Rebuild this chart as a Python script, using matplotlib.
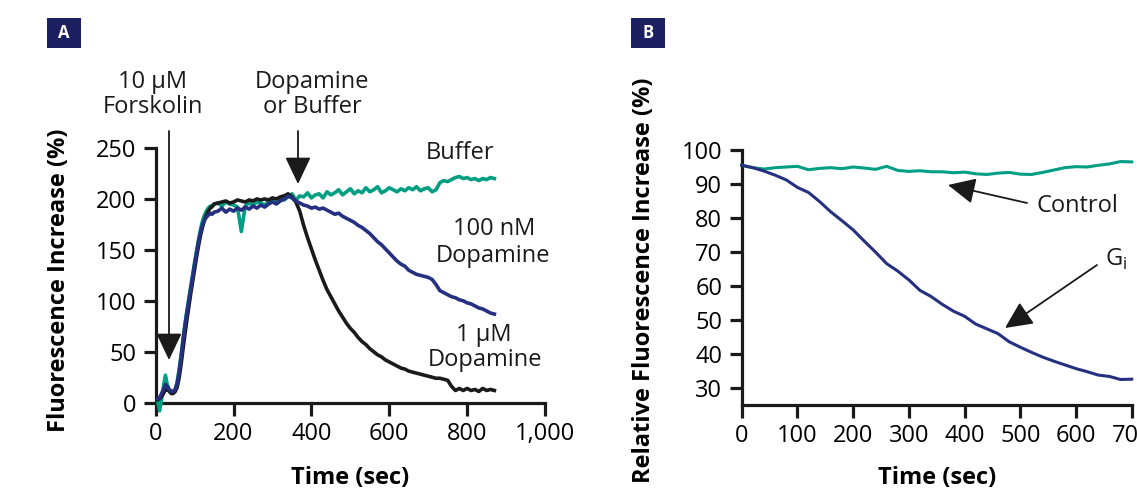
import matplotlib
matplotlib.use('Agg')
import matplotlib.pyplot as plt
from matplotlib.ticker import FuncFormatter
from matplotlib.patches import Rectangle

plt.rcParams['font.family'] = ['Open Sans', 'DejaVu Sans']

# panel A: forskolin then dopamine / buffer
time_a = list(range(5, 151, 5)) + list(range(160, 871, 10))
buffer_vals = [2, -8, 3, 16, 27, 17, 12, 10, 10, 13,
               20, 32, 46, 62, 77, 90, 102, 114, 126, 138,
               149, 160, 170, 178, 184, 188, 191, 193, 192, 195,
               196, 193, 197, 195, 194, 192, 168, 193, 196, 194,
               197, 196, 194, 198, 199, 196, 200, 199, 202, 205,
               199, 203, 202, 206, 201, 204, 205, 201, 207, 204,
               206, 209, 204, 207, 210, 205, 208, 206, 211, 207,
               209, 212, 206, 208, 211, 209, 207, 210, 208, 211,
               209, 212, 208, 210, 211, 207, 209, 216, 218, 217,
               219, 221, 222, 220, 221, 219, 220, 218, 220, 219, 221, 220]
dopa_100nm = [4, 5, 9, 13, 18, 16, 13, 11, 11, 13,
              19, 30, 44, 60, 75, 88, 100, 112, 124, 136,
              147, 158, 167, 174, 179, 182, 184, 186, 185, 187,
              188, 191, 187, 190, 188, 191, 189, 192, 190, 193,
              191, 194, 192, 195, 197, 195, 198, 200, 203, 201,
              198, 196, 194, 193, 191, 192, 190, 191, 189, 187,
              185, 186, 183, 181, 179, 177, 174, 172, 169, 166,
              162, 158, 155, 151, 147, 143, 139, 136, 134, 130,
              128, 126, 125, 124, 123, 121, 116, 110, 108, 106,
              104, 103, 101, 100, 98, 97, 95, 93, 92, 90, 88, 87]
dopa_1um = [3, 4, 6, 9, 13, 13, 11, 9, 9, 11,
            15, 24, 37, 52, 67, 81, 94, 107, 119, 131,
            143, 154, 164, 172, 179, 184, 188, 191, 193, 195,
            196, 197, 198, 196, 197, 199, 198, 197, 199, 198,
            200, 199, 200, 199, 201, 200, 202, 203, 205, 202,
            197, 188, 174, 162, 151, 140, 130, 120, 111, 104,
            97, 90, 84, 78, 73, 69, 64, 60, 57, 53,
            50, 47, 45, 42, 40, 38, 36, 34, 33, 31,
            30, 29, 28, 27, 26, 25, 24, 24, 23, 22,
            16, 12, 14, 12, 14, 12, 13, 11, 14, 12, 13, 12]

# panel B: control vs Gi
time_b = list(range(0, 701, 20))
control = [95.5, 94.8, 94.4, 94.8, 95.0, 95.2, 94.2, 94.6, 94.8, 94.5,
           95.0, 94.7, 94.3, 95.2, 94.0, 93.7, 93.9, 93.6, 93.6, 93.3,
           93.5, 93.0, 92.8, 93.2, 93.4, 92.9, 92.8, 93.4, 94.1, 94.8,
           95.1, 95.0, 95.5, 95.9, 96.6, 96.5]
gi = [95.5, 94.8, 93.8, 92.6, 91.2, 89.0, 87.5, 84.8, 81.8, 79.2,
      76.5, 73.2, 70.0, 66.6, 64.4, 61.8, 58.7, 56.9, 54.6, 52.6,
      51.1, 48.8, 47.4, 46.0, 43.6, 42.0, 40.5, 39.1, 37.9, 36.8,
      35.7, 34.8, 33.8, 33.4, 32.5, 32.6]

TEAL = '#009e83'
NAVY = '#263080'
BLACK = '#1a1a1a'
BOX = '#1c2060'
FS = 17

W, H = 1137, 501


def px(x, y):
    # pixel position (top-left origin) -> figure fraction
    return (x / W, 1 - y / H)


fig = plt.figure(figsize=(W / 100, H / 100), dpi=100)
axA = fig.add_axes([155.7 / W, 1 - 402.7 / H, 389.3 / W, 254.7 / H])
axB = fig.add_axes([741.7 / W, 1 - 405 / H, 390 / W, 255 / H])

for ax in (axA, axB):
    for s in ('top', 'right'):
        ax.spines[s].set_visible(False)
    for s in ('left', 'bottom'):
        ax.spines[s].set_linewidth(2.3)
        ax.spines[s].set_color(BLACK)
    ax.tick_params(direction='out', length=9, width=2.3, labelsize=FS, pad=5, color=BLACK)

axA.plot(time_a, buffer_vals, color=TEAL, lw=2.6, clip_on=False, zorder=3)
axA.plot(time_a, dopa_1um, color=BLACK, lw=2.6, clip_on=False, zorder=4)
axA.plot(time_a, dopa_100nm, color=NAVY, lw=2.6, clip_on=False, zorder=5)
axA.set_xlim(0, 1000)
axA.set_ylim(0, 250)
axA.set_xticks(range(0, 1001, 200))
axA.set_yticks(range(0, 251, 50))
axA.xaxis.set_major_formatter(FuncFormatter(lambda v, p: '{:,.0f}'.format(v)))
axA.set_xlabel('Time (sec)', fontsize=FS, fontweight='bold')
axA.set_ylabel('Fluorescence Increase (%)', fontsize=FS, fontweight='bold')
axA.xaxis.set_label_coords(0.5, -0.296)
axA.xaxis.label.set_va('center')
axA.yaxis.set_label_coords(-0.248, 0.48)
axA.yaxis.label.set_va('center')

axB.plot(time_b, control, color=TEAL, lw=2.2, clip_on=False, zorder=3)
axB.plot(time_b, gi, color=NAVY, lw=2.2, clip_on=False, zorder=4)
axB.set_xlim(0, 700)
axB.set_ylim(25, 100)
axB.set_xticks(range(0, 701, 100))
axB.set_yticks(range(30, 101, 10))
axB.set_xlabel('Time (sec)', fontsize=FS, fontweight='bold')
axB.set_ylabel('Relative Fluorescence Increase (%)', fontsize=FS, fontweight='bold')
axB.xaxis.set_label_coords(0.5, -0.288)
axB.xaxis.label.set_va('center')
axB.yaxis.set_label_coords(-0.2505, 0.49)
axB.yaxis.label.set_va('center')

# panel letters
for letter, x0 in (('A', 47), ('B', 631)):
    fig.patches.append(Rectangle(px(x0, 48), 34 / W, 30 / H, transform=fig.transFigure,
                                 facecolor=BOX, edgecolor='none'))
    fig.text(*px(x0 + 17, 33.5), letter, color='white', fontsize=12, fontweight='bold',
             ha='center', va='center')

# text labels panel A
labels_a = [('10 µM', 153, 82), ('Forskolin', 153, 107),
            ('Dopamine', 312, 82), ('or Buffer', 312, 107),
            ('Buffer', 460, 153),
            ('100 nM', 494, 229), ('Dopamine', 493, 256),
            ('1 µM', 484, 335), ('Dopamine', 485, 360)]
for txt, x, y in labels_a:
    fig.text(*px(x, y), txt, fontsize=FS, ha='center', va='center', color=BLACK)

head = '-|>,head_length=0.42,head_width=0.2'
arrows = [((169, 131), (169, 360)), ((298, 131), (298, 184)),
          ((1027, 203), (948, 185)), ((1097, 265), (1005, 328))]
for (x0, y0), (x1, y1) in arrows:
    fig.add_artist(matplotlib.patches.FancyArrowPatch(
        px(x0, y0), px(x1, y1), transform=fig.transFigure, arrowstyle=head,
        mutation_scale=40, lw=1.3, color=BLACK, shrinkA=0, shrinkB=0))

fig.text(*px(1036, 206), 'Control', fontsize=FS, ha='left', va='center', color=BLACK)
fig.text(*px(1105, 259), r'G$_\mathregular{i}$', fontsize=FS, ha='left', va='center', color=BLACK)

fig.savefig('out.png', dpi=100)
